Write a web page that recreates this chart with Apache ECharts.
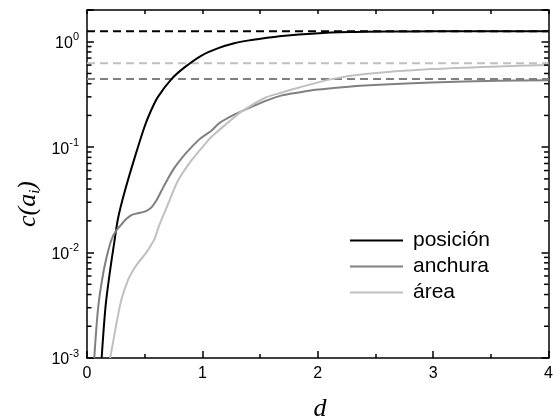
<!DOCTYPE html>
<html><head><meta charset="utf-8">
<script src="https://cdn.jsdelivr.net/npm/echarts@6/dist/echarts.min.js"></script>
<style>html,body{margin:0;padding:0;background:#fff}#c{width:556px;height:420px}</style>
</head><body><div id="c"></div>
<script>
// ---- data ----
const seriesNames = ['posición', 'anchura', 'área'];
const posicionX = [0.127, 0.161, 0.198, 0.24, 0.27, 0.328, 0.414, 0.5, 0.557, 0.615, 0.73, 0.845, 0.989, 1.132, 1.276, 1.405, 1.534, 1.69, 1.98, 2.27, 2.6, 3.0, 3.5, 4.0];
const posicionY = [0.001, 0.0031, 0.0065, 0.0133, 0.0214, 0.0384, 0.08, 0.158, 0.225, 0.30, 0.44, 0.571, 0.736, 0.865, 0.966, 1.03, 1.08, 1.135, 1.2, 1.235, 1.25, 1.256, 1.258, 1.26];
const anchuraX = [0.063, 0.098, 0.141, 0.18, 0.213, 0.25, 0.299, 0.34, 0.385, 0.44, 0.486, 0.52, 0.557, 0.6, 0.644, 0.7, 0.759, 0.83, 0.902, 0.98, 1.075, 1.15, 1.25, 1.348, 1.45, 1.549, 1.69, 1.836, 1.98, 2.12, 2.41, 2.985, 3.56, 4.0];
const anchuraY = [0.001, 0.0031, 0.0064, 0.01, 0.0133, 0.016, 0.0185, 0.0208, 0.0227, 0.0236, 0.0242, 0.025, 0.0267, 0.031, 0.0384, 0.05, 0.064, 0.081, 0.099, 0.12, 0.1426, 0.17, 0.197, 0.221, 0.248, 0.275, 0.31, 0.33, 0.35, 0.363, 0.385, 0.41, 0.426, 0.432];
const areaX = [0.201, 0.23, 0.256, 0.299, 0.356, 0.4, 0.443, 0.514, 0.557, 0.586, 0.629, 0.701, 0.787, 0.902, 1.046, 1.089, 1.19, 1.348, 1.549, 1.69, 1.836, 2.12, 2.41, 2.985, 3.56, 4.0];
const areaY = [0.001, 0.0015, 0.00215, 0.0036, 0.0055, 0.0068, 0.008, 0.01, 0.0119, 0.0135, 0.0185, 0.0286, 0.0477, 0.074, 0.1146, 0.128, 0.16, 0.221, 0.296, 0.33, 0.368, 0.442, 0.493, 0.55, 0.583, 0.6];
const asymptoteValues = [1.26, 0.442, 0.625]; // posición, anchura, área limits
const xRange = [0, 4];
const yRange = [0.001, 2];
const xTickLabels = ['0', '1', '2', '3', '4'];
const yMinorTicks = [0.002,0.003,0.004,0.005,0.006,0.007,0.008,0.009,0.02,0.03,0.04,0.05,0.06,0.07,0.08,0.09,0.2,0.3,0.4,0.5,0.6,0.7,0.8,0.9,2];

// ---- style ----
const colors = ['#000000', '#808080', '#c0c0c0'];
const sans = '"Liberation Sans", Arial, sans-serif';
const serif = '"Liberation Serif", "Times New Roman", serif';

const zip = (xs, ys) => xs.map((x, i) => [x, ys[i]]);
const curveData = [zip(posicionX, posicionY), zip(anchuraX, anchuraY), zip(areaX, areaY)];

const chart = echarts.init(document.getElementById('c'), null, {renderer: 'canvas'});

const series = [];
asymptoteValues.forEach((v, i) => {
  series.push({
    name: 'lim' + i, type: 'line', data: [[xRange[0], v], [xRange[1], v]],
    symbol: 'none', silent: true, z: 1,
    lineStyle: {color: colors[i], width: 2, type: [8, 5]}
  });
});
curveData.forEach((d, i) => {
  series.push({
    name: seriesNames[i], type: 'line', data: d, symbol: 'none',
    smooth: 0.3, z: 3,
    itemStyle: {color: colors[i]},
    lineStyle: {color: colors[i], width: 2}
  });
});
series.push({
  type: 'custom', silent: true, z: 5, clip: false,
  data: yMinorTicks.map(v => [xRange[0], v]),
  renderItem: function (params, api) {
    const v = api.value(1);
    const pl = api.coord([xRange[0], v]);
    const pr = api.coord([xRange[1], v]);
    return {type: 'group', children: [
      {type: 'line', shape: {x1: pl[0], y1: pl[1], x2: pl[0] + 4.5, y2: pl[1]}, style: {stroke: '#000', lineWidth: 1.5}},
      {type: 'line', shape: {x1: pr[0] - 4.5, y1: pr[1], x2: pr[0], y2: pr[1]}, style: {stroke: '#000', lineWidth: 1.5}}
    ]};
  }
});

const yLabelFmt = function (v) {
  const l = Math.log10(v), e = Math.round(l);
  if (Math.abs(l - e) > 1e-6) return '';
  return '{b|10}{s|' + e + '}';
};

const axisLineStyle = {show: true, onZero: false, lineStyle: {color: '#000', width: 1.5}};

const option = {
  animation: false,
  backgroundColor: '#fff',
  grid: {left: 87, right: 5, top: 10, bottom: 62, show: false},
  legend: {
    data: seriesNames, orient: 'vertical', left: 350, top: 230, padding: 0,
    icon: 'rect', itemWidth: 53, itemHeight: 2, itemGap: 5,
    textStyle: {fontFamily: sans, fontSize: 21, color: '#000', lineHeight: 21, padding: [0, 0, 0, 5]}
  },
  xAxis: [{
    type: 'value', min: xRange[0], max: xRange[1], interval: 1, position: 'bottom',
    axisLine: axisLineStyle,
    axisTick: {show: true, inside: true, length: 7, lineStyle: {color: '#000', width: 1.5}},
    minorTick: {show: true, splitNumber: 2, length: 4, lineStyle: {color: '#000', width: 1.5}},
    splitLine: {show: false},
    axisLabel: {margin: 8, fontFamily: sans, fontSize: 16, color: '#000',
      formatter: v => xTickLabels[Math.round(v)] ?? ''}
  }, {
    type: 'value', min: xRange[0], max: xRange[1], interval: 0.5, position: 'top',
    axisLine: axisLineStyle,
    axisTick: {show: true, inside: true, length: 4, lineStyle: {color: '#000', width: 1.5}},
    splitLine: {show: false}, axisLabel: {show: false}
  }],
  yAxis: [{
    type: 'log', logBase: 10, min: yRange[0], max: yRange[1], position: 'left',
    axisLine: axisLineStyle,
    axisTick: {show: true, inside: true, length: 7, lineStyle: {color: '#000', width: 1.5}},
    splitLine: {show: false},
    axisLabel: {margin: 8, formatter: yLabelFmt, color: '#000',
      rich: {
        b: {fontFamily: sans, fontSize: 16, color: '#000', lineHeight: 20, verticalAlign: 'bottom'},
        s: {fontFamily: sans, fontSize: 11, color: '#000', lineHeight: 20, verticalAlign: 'top', padding: [0, 0, 6, 0]}
      }}
  }, {
    type: 'log', logBase: 10, min: yRange[0], max: yRange[1], position: 'right',
    axisLine: axisLineStyle,
    axisTick: {show: true, inside: true, length: 7, lineStyle: {color: '#000', width: 1.5}},
    splitLine: {show: false}, axisLabel: {show: false}
  }],
  graphic: [{
    type: 'text', x: 320, y: 409,
    style: {text: 'd', font: 'italic 26px ' + serif, fill: '#000', align: 'center', verticalAlign: 'middle'}
  }, {
    type: 'text', x: 28, y: 204, rotation: Math.PI / 2,
    style: {text: '{m|c(a}{i|i}{m|)}', font: 'italic 26px ' + serif, fill: '#000', align: 'center', verticalAlign: 'middle',
      rich: {
        m: {fontFamily: serif, fontStyle: 'italic', fontSize: 26, fill: '#000', lineHeight: 30, verticalAlign: 'middle'},
        i: {fontFamily: serif, fontStyle: 'italic', fontSize: 15, fill: '#000', lineHeight: 14, verticalAlign: 'bottom'}
      }}
  }],
  series: series
};
chart.setOption(option);
</script>
</body></html>
